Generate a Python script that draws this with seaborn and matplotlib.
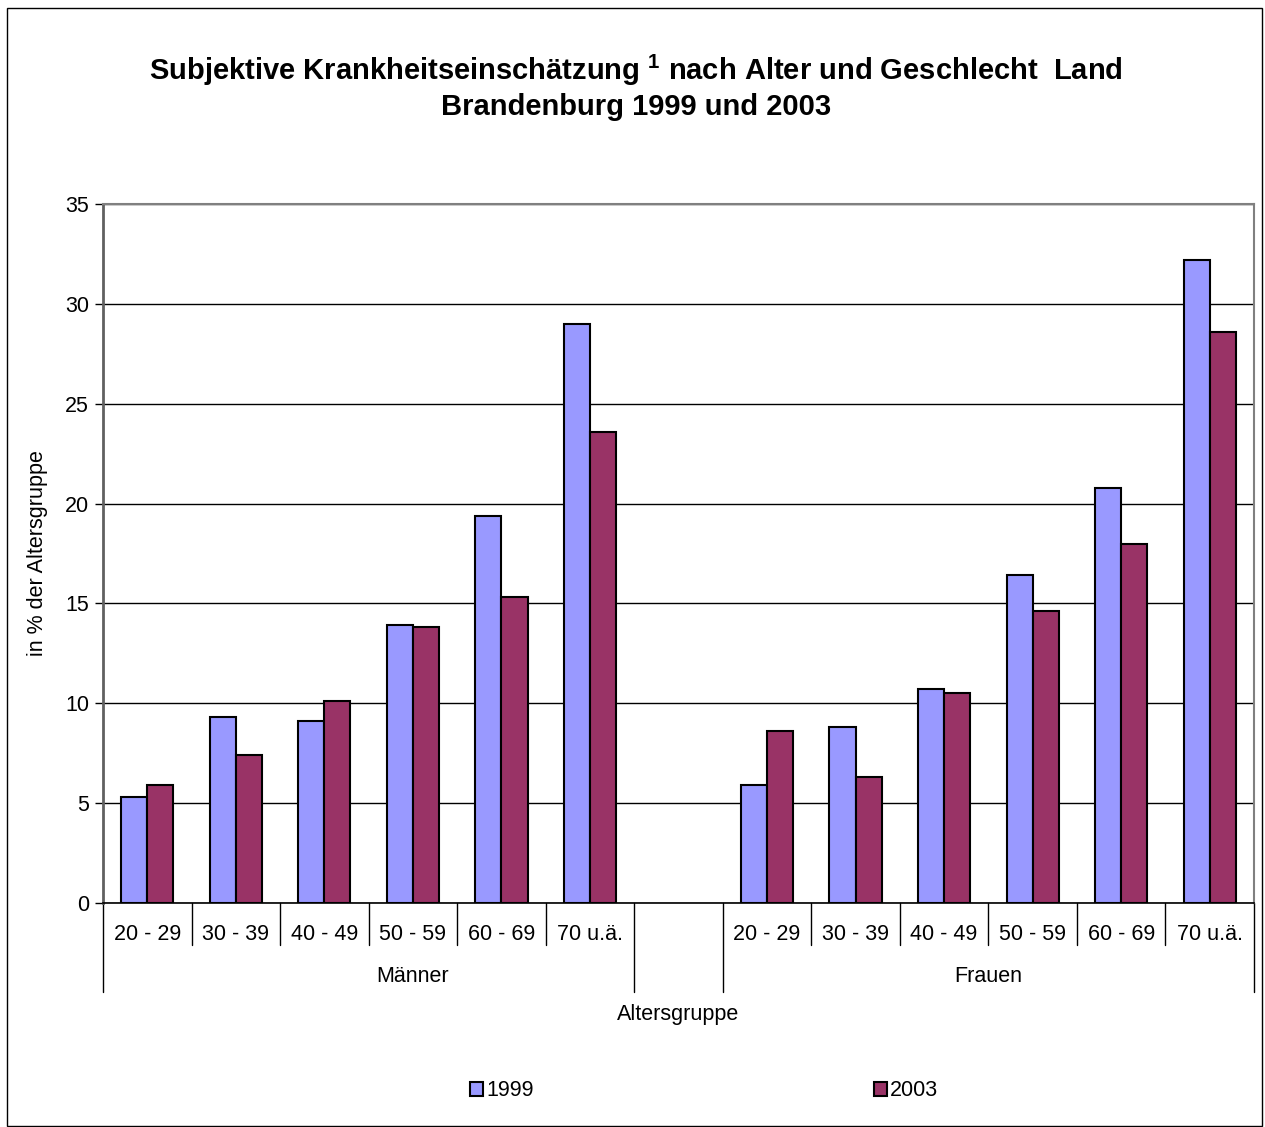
import pandas as pd
import matplotlib.pyplot as plt
import seaborn as sns
from matplotlib.patches import Patch, Rectangle

# data
altersgruppen = ['20 - 29', '30 - 39', '40 - 49', '50 - 59', '60 - 69', '70 u.ä.']
maenner_1999 = [5.3, 9.3, 9.1, 13.9, 19.4, 29.0]
maenner_2003 = [5.9, 7.4, 10.1, 13.8, 15.3, 23.6]
frauen_1999 = [5.9, 8.8, 10.7, 16.4, 20.8, 32.2]
frauen_2003 = [8.6, 6.3, 10.5, 14.6, 18.0, 28.6]
jahre = ['1999', '2003']
farben = ['#9999FF', '#993366']

rows = []
for i, ag in enumerate(altersgruppen):
    rows.append(('M ' + ag, '1999', maenner_1999[i]))
    rows.append(('M ' + ag, '2003', maenner_2003[i]))
for i, ag in enumerate(altersgruppen):
    rows.append(('F ' + ag, '1999', frauen_1999[i]))
    rows.append(('F ' + ag, '2003', frauen_2003[i]))
df = pd.DataFrame(rows, columns=['slot', 'Jahr', 'wert'])
order = ['M ' + a for a in altersgruppen] + [' '] + ['F ' + a for a in altersgruppen]
labels = altersgruppen + [''] + altersgruppen

sns.set_style('white')
plt.rcParams['font.family'] = ['Liberation Sans', 'DejaVu Sans']
plt.rcParams['text.color'] = 'black'
plt.rcParams['axes.labelcolor'] = 'black'
plt.rcParams['ytick.color'] = 'black'
plt.rcParams['mathtext.fontset'] = 'custom'
plt.rcParams['mathtext.rm'] = 'Liberation Sans:bold'
plt.rcParams['mathtext.bf'] = 'Liberation Sans:bold'

fs = 15.5

fig = plt.figure(figsize=(12.65, 11.27), dpi=100)
ax = fig.add_axes([103 / 1265, 1 - 903 / 1127, 1151 / 1265, 699 / 1127])

sns.barplot(data=df, x='slot', y='wert', hue='Jahr', order=order, hue_order=jahre,
            palette=farben, saturation=1, width=0.59, gap=0, edgecolor='black',
            linewidth=1.5, ax=ax, legend=False, zorder=3)

ax.set_ylim(0, 35)
ax.set_xlim(-0.5, 12.5)
ax.set_yticks(range(0, 36, 5))
ax.yaxis.grid(True, color='black', lw=1)
ax.set_axisbelow(True)
ax.tick_params(axis='y', labelsize=fs, length=6, width=1, color='black',
               labelcolor='black', pad=4, left=True)
ax.tick_params(axis='x', bottom=False, labelbottom=False)
ax.set_xlabel('')
ax.set_ylabel('in % der Altersgruppe', fontsize=fs, labelpad=12, color='black')
for s in ['top', 'right']:
    ax.spines[s].set_color('#808080')
    ax.spines[s].set_linewidth(1.5)
ax.spines['left'].set_color('#606060')
ax.spines['left'].set_linewidth(2)
ax.spines['bottom'].set_color('black')
ax.spines['bottom'].set_linewidth(1.2)

# multi level category axis
trans = ax.get_xaxis_transform()
for i, lab in enumerate(labels):
    ax.text(i, -0.045, lab, transform=trans, ha='center', va='center', fontsize=fs)
for b in range(14):
    x = b - 0.5
    low = -0.127 if b in (0, 6, 7, 13) else -0.060
    ax.plot([x, x], [0, low], transform=trans, color='black', lw=1, clip_on=False)
ax.text(3.0, -0.105, 'Männer', transform=trans, ha='center', va='center', fontsize=fs)
ax.text(9.5, -0.105, 'Frauen', transform=trans, ha='center', va='center', fontsize=fs)
ax.text(0.5, -0.159, 'Altersgruppe', transform=ax.transAxes, ha='center', va='center', fontsize=fs)

# title
fig.text(636 / 1265, 1 - 70 / 1127,
         r'Subjektive Krankheitseinschätzung $^{1}$ nach Alter und Geschlecht  Land',
         ha='center', va='center', fontsize=21, fontweight='bold')
fig.text(636 / 1265, 1 - 107 / 1127, 'Brandenburg 1999 und 2003',
         ha='center', va='center', fontsize=21, fontweight='bold')

# legend
handles = [Patch(facecolor=c, edgecolor='black', lw=1.5, label=j) for c, j in zip(farben, jahre)]
fig.legend(handles=handles, loc='center', bbox_to_anchor=(704 / 1265, 1 - 1091 / 1127),
           ncol=2, frameon=False, fontsize=fs, handlelength=0.6, handleheight=0.6,
           handletextpad=0.15, columnspacing=15.8)

# chart border
fig.patches.append(Rectangle((7 / 1265, 0.001), 1255 / 1265, 1 - 8 / 1127 - 0.001,
                             transform=fig.transFigure, fill=False, edgecolor='black', lw=1))

fig.savefig('out.png', dpi=100)
